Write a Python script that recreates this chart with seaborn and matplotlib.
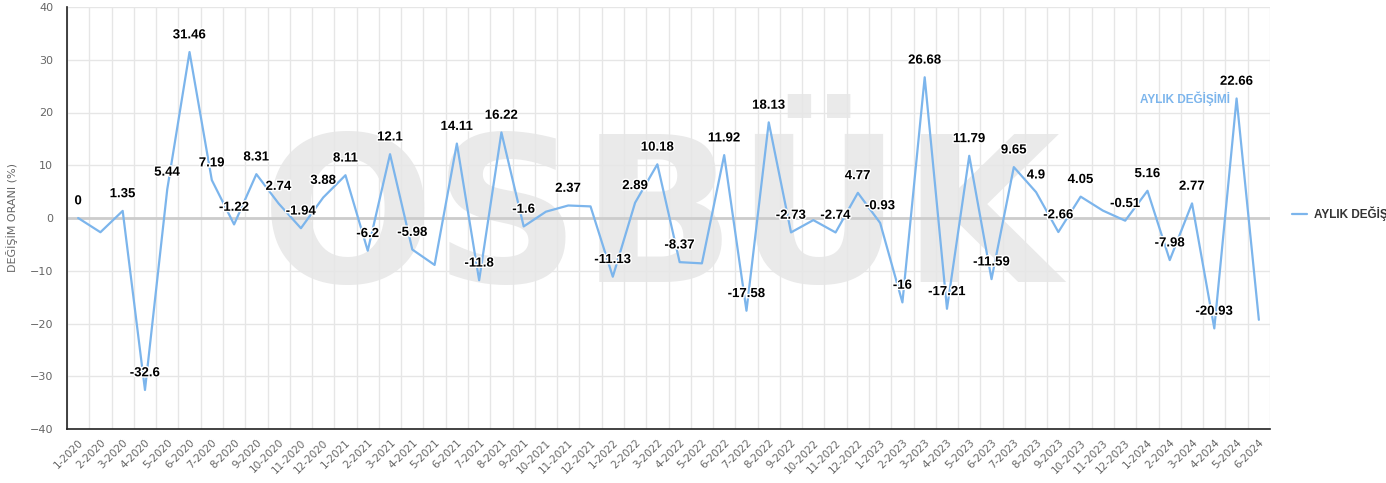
import numpy as np
import pandas as pd
import seaborn as sns
import matplotlib.pyplot as plt
import matplotlib.patheffects as pe

# aylar ve aylik degisim oranlari (%)
months = [f"{m}-{y}" for y in range(2020, 2025) for m in range(1, 13)][:54]
values = [0, -2.7, 1.35, -32.6, 5.44, 31.46, 7.19, -1.22, 8.31, 2.74, -1.94, 3.88,
          8.11, -6.2, 12.1, -5.98, -8.9, 14.11, -11.8, 16.22, -1.6, 1.2, 2.37, 2.2,
          -11.13, 2.89, 10.18, -8.37, -8.6, 11.92, -17.58, 18.13, -2.73, -0.4, -2.74, 4.77,
          -0.93, -16, 26.68, -17.21, 11.79, -11.59, 9.65, 4.9, -2.66, 4.05, 1.4, -0.51,
          5.16, -7.98, 2.77, -20.93, 22.66, -19.3]
# etiketi gizlenen noktalar (highcharts cakisma nedeniyle gostermiyor)
hidden_labels = {1, 16, 21, 23, 28, 33, 46, 53}
series_name = "AYLIK DEĞİŞİMİ"

df = pd.DataFrame({"ay": months, "deger": values})

sns.set_style("white")
plt.rcParams['font.family'] = ['DejaVu Sans']

fig = plt.figure(figsize=(13.86, 4.83), dpi=100)
ax = fig.add_axes([67 / 1386, 54 / 483, 1203 / 1386, 422 / 483])

# filigran
ax.text(0.494, 0.348, "OSBÜK", transform=ax.transAxes, ha='center', va='baseline',
        fontsize=147, fontweight='bold', color='#eaeaea', zorder=0)

ax.axhline(0, color='#cccccc', lw=2, zorder=1)
sns.lineplot(data=df, x="ay", y="deger", sort=False, color='#7cb5ec', lw=1.6,
             ax=ax, label=series_name, zorder=3, legend=False)

for i, v in enumerate(values):
    if i in hidden_labels:
        continue
    ax.annotate(f"{v:g}", (i, v), xytext=(0, 12), textcoords='offset points',
                ha='center', va='center', fontsize=9.5, fontweight='bold',
                family='Liberation Sans', color='black', zorder=4,
                path_effects=[pe.withStroke(linewidth=2, foreground='white')])

ax.text(49.7, 22.6, series_name, ha='center', va='center', fontsize=8.5,
        fontweight='bold', family='Liberation Sans', color='#7cb5ec', zorder=4)

ax.set_xlim(-0.5, len(months) - 0.5)
ax.set_ylim(-40, 40)
ax.set_yticks(np.arange(-40, 41, 10))
ax.set_xticks(range(len(months)))
ax.set_xticklabels(months, rotation=45, ha='right', rotation_mode='anchor',
                   fontsize=7.5, color='#666666')
ax.set_xticks(np.arange(-0.5, len(months), 1), minor=True)
ax.tick_params(axis='x', which='both', length=0, pad=6)
ax.tick_params(axis='y', length=8, color='#ccd6eb', labelsize=8, labelcolor='#666666', pad=2)
ax.grid(axis='y', which='major', color='#e6e6e6', lw=1)
ax.grid(axis='x', which='minor', color='#e6e6e6', lw=1)
ax.set_axisbelow(True)

for s in ['top', 'right']:
    ax.spines[s].set_visible(False)
ax.spines['left'].set_color('#222222')
ax.spines['bottom'].set_color('#222222')
ax.spines['left'].set_linewidth(1.2)
ax.spines['bottom'].set_linewidth(1.2)

ax.set_xlabel("")
ax.set_ylabel("DEĞİŞİM ORANI (%)", fontsize=8, color='#666666', labelpad=8)

handles, labels = ax.get_legend_handles_labels()
fig.legend(handles, labels, loc='center left', bbox_to_anchor=(1281 / 1386, 269 / 483),
           frameon=False, handlelength=1.3, handletextpad=0.6,
           prop={'size': 8.5, 'weight': 'bold', 'family': 'Liberation Sans'},
           labelcolor='#333333')

fig.savefig("out.png", dpi=100)
